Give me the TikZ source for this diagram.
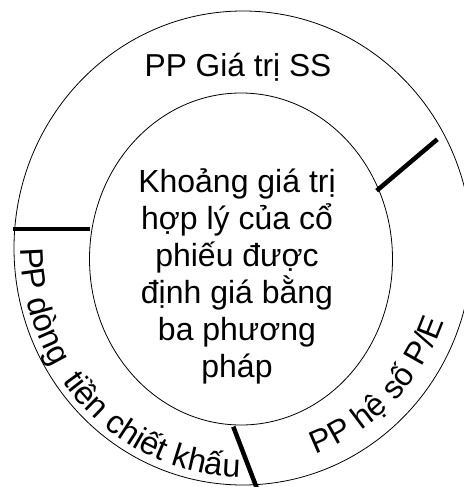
\documentclass[tikz,border=0pt]{standalone}
\usepackage{fontspec}
\setmainfont{Liberation Sans}
\usetikzlibrary{decorations.text}
\tikzset{
  ring/.style={draw=black, line width=0.8pt},
  sep/.style={draw=black, line width=4.5pt},
  curvtext/.style={decorate, decoration={text along path, text align=left, text={#1}}}
}
\begin{document}
\begin{tikzpicture}[x=1pt,y=1pt]
\useasboundingbox (0,0) rectangle (463,-487);
\coordinate (c) at (243,-248);
\coordinate (ci) at (241,-259);
% outer and inner rings
\draw[ring] (c) ellipse[x radius=229, y radius=237];
\draw[ring, fill=white] (ci) ellipse[x radius=151.5, y radius=166];
% separators
\coordinate (s1a) at (13,-229);   \coordinate (s1b) at (89.5,-229);
\coordinate (s2a) at (376.7,-190.7); \coordinate (s2b) at (437.3,-139.3);
\coordinate (s3a) at (233.3,-426.7); \coordinate (s3b) at (257.5,-490);
\draw[sep] (s1a) -- (s1b);
\draw[sep] (s2a) -- (s2b);
\draw[sep] (s3a) -- (s3b);
% center text
\node[align=center, font=\fontsize{32}{37}\selectfont] (center) at (237,-276)
  {Khoảng giá trị\\hợp lý của cổ\\phiếu được\\định giá bằng\\ba phương\\pháp};
% top label
\node[anchor=base, font=\fontsize{31.7}{36}\selectfont, inner sep=0pt] (top) at (238,-76) {PP Giá trị SS};
% curved labels
\path[curvtext={|\fontsize{32.5}{33}\selectfont|PP dòng}]
  (c) ++(180:222 and 229) arc[start angle=180, end angle=215, x radius=222, y radius=229];
\path[curvtext={|\fontsize{32.5}{33}\selectfont|tiền chiết khấu}]
  (c) ++(215.5:222 and 229) arc[start angle=215.5, end angle=285, x radius=222, y radius=229];
\path[curvtext={|\fontsize{32}{33}\selectfont|PP hệ số P/E}]
  (c) ++(290:213 and 219) arc[start angle=290, end angle=355, x radius=213, y radius=219];
\end{tikzpicture}
\end{document}
